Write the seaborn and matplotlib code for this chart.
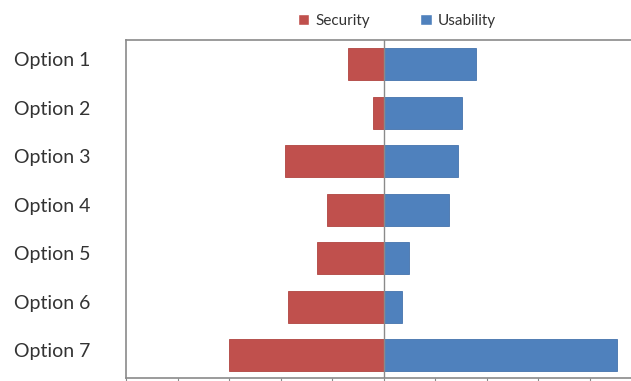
import matplotlib
matplotlib.use("Agg")
import matplotlib.pyplot as plt
import matplotlib.transforms as mtransforms
from matplotlib.patches import Patch
import seaborn as sns
import pandas as pd

options = ["Option 1", "Option 2", "Option 3", "Option 4", "Option 5", "Option 6", "Option 7"]
security = [0.69, 0.20, 1.91, 1.09, 1.29, 1.85, 3.01]
usability = [1.79, 1.52, 1.44, 1.27, 0.49, 0.36, 4.52]

RED = "#C0504D"
BLUE = "#4F81BD"

df = pd.DataFrame({
    "option": options,
    "security": [-v for v in security],
    "usability": usability,
})

sns.set_theme(style="white")
plt.rcParams["font.family"] = ["Lato", "DejaVu Sans"]

fig = plt.figure(figsize=(6.31, 3.81), dpi=100)
ax = fig.add_axes([126 / 631, 3 / 381, 505 / 631, 338 / 381])

sns.barplot(data=df, x="security", y="option", orient="h", color=RED,
            saturation=1, width=0.66, edgecolor="#B04440", linewidth=0.6, ax=ax)
sns.barplot(data=df, x="usability", y="option", orient="h", color=BLUE,
            saturation=1, width=0.66, edgecolor="#4573AD", linewidth=0.6, ax=ax)

ax.set_xlim(-5, 4.8)
ax.set_ylim(6.47, -0.5)
ax.axvline(0, color="#8a8a8a", linewidth=1.0, zorder=3)

ax.set_xlabel("")
ax.set_ylabel("")
ax.set_xticks(range(-5, 5))
ax.set_xticklabels([])
ax.tick_params(axis="x", which="both", bottom=True, length=5, width=0.8,
               color="#8a8a8a", direction="out")
# labels are left-aligned near the figure edge; pad is in points
ax.tick_params(axis="y", length=0, pad=112 * 0.72, labelsize=14, labelcolor="#333333")
lift = mtransforms.ScaledTranslation(0, 5 / 100, fig.dpi_scale_trans)
for lbl in ax.get_yticklabels():
    lbl.set_horizontalalignment("left")
    lbl.set_transform(lbl.get_transform() + lift)

for side in ["left", "top", "bottom"]:
    ax.spines[side].set_visible(True)
    ax.spines[side].set_color("#8a8a8a")
    ax.spines[side].set_linewidth(1.2)
ax.spines["right"].set_visible(False)

handles = [Patch(facecolor=RED, label="Security"),
           Patch(facecolor=BLUE, label="Usability")]
fig.legend(handles=handles, loc="center", bbox_to_anchor=(397 / 631, 1 - 21 / 381),
           ncol=2, frameon=False, fontsize=11, handlelength=0.75, handleheight=0.75,
           handletextpad=0.4, columnspacing=3.3, labelcolor="#333333")

fig.savefig("out.png", dpi=100)
